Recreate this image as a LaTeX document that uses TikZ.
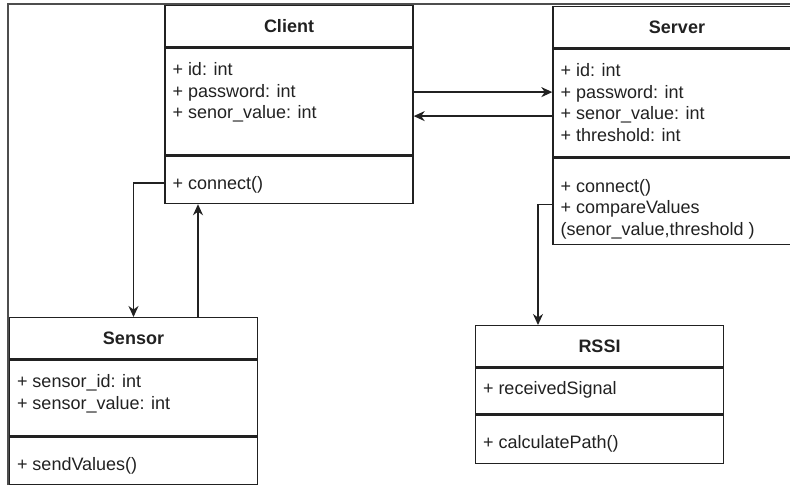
\documentclass[tikz,border=0pt]{standalone}
\usepackage{fontspec}
\setmainfont{Liberation Sans}
\usetikzlibrary{arrows.meta,positioning}
\definecolor{umlink}{rgb}{0.13,0.13,0.13}

\begin{document}
\begin{tikzpicture}[x=1pt,y=-1pt]
  %%Styles for the class boxes, their members and the arrows
  \tikzset{class title/.style={draw=umlink,line width=1.4pt,anchor=north,minimum width=248pt,minimum height=41pt,inner sep=0pt,font=\fontsize{18}{21.6}\selectfont\bfseries,text=umlink}}
  \tikzset{class part/.style={draw=umlink,line width=1.4pt,anchor=north,minimum width=248pt,inner sep=0pt}}
  \tikzset{members/.style={anchor=north west,align=left,inner sep=0pt,font=\fontsize{18}{21.6}\selectfont,text=umlink}}
  \tikzset{link arrow/.style={draw=umlink,line width=1.5pt,-{Stealth[length=11pt,width=10pt,inset=3.5pt]}}}
  %%Page size and the frame of the shot
  \useasboundingbox (0,0) rectangle (790,485);
  \clip (0,0) rectangle (790,485);
  \draw[umlink!80,line width=1.5pt] (8,485) -- (8,4) -- (790,4);
  %%Place the three parts of every class box using the foreach construct
  \foreach \name/\x/\y/\title/\ha/\hb in {client/289/5/Client/107/47,server/677/6/Server/108/86,sensor/133.5/317/Sensor/76/47,rssi/599.5/325/RSSI/46/48}{
    \node[class title] (\name) at (\x,\y) {\title};
    \node[class part,minimum height=\ha pt] (\name-attr) at (\name.south) {};
    \node[class part,minimum height=\hb pt] (\name-ops) at (\name-attr.south) {};
  }
  %%Attributes and operations
  \node[members] (client-attr-text) at ([shift={(8pt,-15pt)}]client-attr.north west) {+ id: int\\+ password: int\\+ senor\_value: int};
  \node[members] (client-ops-text) at ([shift={(8pt,-20pt)}]client-ops.north west) {+ connect()};
  \node[members] (server-attr-text) at ([shift={(8pt,-15pt)}]server-attr.north west) {+ id: int\\+ password: int\\+ senor\_value: int\\+ threshold: int};
  \node[members] (server-ops-text) at ([shift={(8pt,-21pt)}]server-ops.north west) {+ connect()\\+ compareValues\\(senor\_value,threshold )};
  \node[members] (sensor-attr-text) at ([shift={(8pt,-15pt)}]sensor-attr.north west) {+ sensor\_id: int\\+ sensor\_value: int};
  \node[members] (sensor-ops-text) at ([shift={(8pt,-20pt)}]sensor-ops.north west) {+ sendValues()};
  \node[members] (rssi-attr-text) at ([shift={(8pt,-14pt)}]rssi-attr.north west) {+ receivedSignal};
  \node[members] (rssi-ops-text) at ([shift={(8pt,-20pt)}]rssi-ops.north west) {+ calculatePath()};
  %%Drawing the arrows
  \path[link arrow] ([yshift=9.5pt]client-attr.east) -- ([yshift=9.5pt]client-attr.east -| server-attr.west);
  \path[link arrow] ([yshift=-14.5pt]client-attr.east -| server-attr.west) -- ([yshift=-14.5pt]client-attr.east);
  \path[link arrow] ([yshift=-3pt]client-ops.west) -| (sensor.north);
  \path[link arrow] ([xshift=64.5pt]sensor.north) -- ([xshift=64.5pt]sensor.north |- client-ops.south);
  \path[link arrow] ([yshift=-3pt]server-ops.west) -| ([xshift=-61.5pt]rssi.north);
\end{tikzpicture}
\end{document}
